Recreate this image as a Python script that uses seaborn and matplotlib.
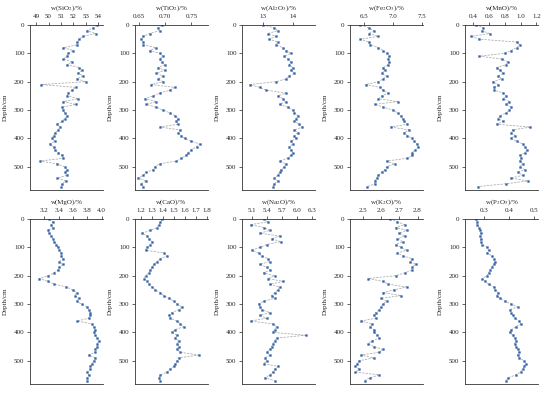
import matplotlib
matplotlib.use("Agg")
import matplotlib.pyplot as plt
import pandas as pd
import seaborn as sns

# =====================
# 1. data (depth every 10 cm)
# =====================
depth = list(range(0, 580, 10))

sio2 = [53.9, 53.6, 53.1, 53.8, 52.8, 52.5, 52.3, 52.3, 51.2, 52.0,
        51.6, 51.5, 51.2, 51.9, 51.5, 52.5, 52.7, 52.4, 52.8, 52.3,
        53.0, 49.4, 52.2, 51.9, 51.6, 51.5, 52.4, 51.2, 52.2, 51.1,
        51.2, 51.3, 51.5, 51.3, 51.1, 50.7, 50.9, 50.8, 50.5, 50.4,
        50.3, 50.5, 50.1, 50.4, 50.5, 50.8, 51.1, 51.2, 49.3, 50.7,
        51.3, 51.5, 51.3, 51.5, 50.7, 51.4, 51.1, 51.0]
tio2 = [0.693, 0.686, 0.689, 0.670, 0.658, 0.654, 0.658, 0.658, 0.683, 0.670,
        0.689, 0.696, 0.689, 0.693, 0.699, 0.686, 0.699, 0.683, 0.696, 0.686,
        0.696, 0.673, 0.718, 0.709, 0.689, 0.677, 0.661, 0.683, 0.664, 0.683,
        0.696, 0.709, 0.718, 0.725, 0.721, 0.725, 0.690, 0.728, 0.725, 0.731,
        0.737, 0.750, 0.766, 0.760, 0.750, 0.744, 0.740, 0.731, 0.721, 0.689,
        0.680, 0.677, 0.664, 0.658, 0.648, 0.664, 0.654, 0.658]
al2o3 = [13.0, 13.39, 13.5, 13.17, 13.44, 13.22, 13.5, 13.44, 13.67, 13.78,
         13.94, 13.72, 13.83, 13.94, 13.89, 14.0, 13.94, 14.06, 13.89, 13.78,
         13.44, 12.56, 12.89, 13.11, 13.78, 13.5, 13.67, 13.78, 13.56, 13.83,
         14.0, 14.06, 14.17, 14.11, 14.06, 14.22, 14.33, 14.06, 14.17, 14.06,
         14.11, 13.94, 14.0, 13.89, 13.94, 14.0, 13.94, 13.83, 13.56, 13.78,
         13.72, 13.61, 13.56, 13.5, 13.39, 13.5, 13.39, 13.33]
fe2o3 = [6.44, 6.58, 6.67, 6.58, 6.75, 6.44, 6.58, 6.61, 6.75, 6.83,
         6.89, 6.94, 6.92, 6.94, 6.92, 6.83, 6.86, 6.81, 6.89, 6.83,
         6.75, 6.53, 6.78, 6.83, 6.92, 6.81, 6.75, 7.08, 6.69, 6.83,
         7.0, 7.08, 7.14, 7.17, 7.19, 7.25, 6.97, 7.28, 7.19, 7.25,
         7.33, 7.36, 7.42, 7.44, 7.39, 7.33, 7.33, 7.25, 6.89, 7.03,
         6.89, 6.86, 6.81, 6.75, 6.72, 6.69, 6.69, 6.56]
mno = [0.44, 0.53, 0.51, 0.61, 0.38, 0.48, 0.95, 0.99, 0.95, 0.88,
       0.80, 0.48, 0.76, 0.84, 0.82, 0.70, 0.74, 0.78, 0.72, 0.76,
       0.65, 0.72, 0.67, 0.67, 0.78, 0.82, 0.78, 0.86, 0.82, 0.88,
       0.86, 0.82, 0.74, 0.72, 0.78, 0.70, 1.12, 0.90, 0.88, 0.93,
       0.88, 0.95, 1.03, 1.05, 1.08, 1.06, 0.99, 1.01, 0.99, 1.03,
       0.99, 1.05, 0.97, 1.03, 0.88, 1.09, 0.82, 0.46]
mgo = [3.27, 3.32, 3.30, 3.32, 3.25, 3.27, 3.30, 3.32, 3.34, 3.37,
       3.39, 3.41, 3.44, 3.44, 3.46, 3.41, 3.46, 3.41, 3.39, 3.34,
       3.25, 3.13, 3.25, 3.34, 3.51, 3.60, 3.65, 3.63, 3.68, 3.65,
       3.72, 3.80, 3.82, 3.84, 3.84, 3.82, 3.66, 3.87, 3.89, 3.91,
       3.89, 3.91, 3.94, 3.96, 3.94, 3.94, 3.91, 3.91, 3.82, 3.91,
       3.89, 3.87, 3.84, 3.84, 3.80, 3.82, 3.80, 3.80]
cao = [1.395, 1.38, 1.365, 1.35, 1.29, 1.215, 1.26, 1.275, 1.305, 1.29,
       1.26, 1.245, 1.41, 1.44, 1.38, 1.35, 1.32, 1.305, 1.29, 1.275,
       1.245, 1.23, 1.26, 1.275, 1.305, 1.335, 1.38, 1.41, 1.455, 1.50,
       1.53, 1.575, 1.545, 1.485, 1.455, 1.47, 1.53, 1.56, 1.59, 1.515,
       1.485, 1.53, 1.515, 1.545, 1.53, 1.545, 1.53, 1.56, 1.725, 1.545,
       1.53, 1.515, 1.50, 1.47, 1.44, 1.38, 1.365, 1.38]
na2o = [5.33, 5.42, 5.07, 5.33, 5.46, 5.26, 5.65, 5.49, 5.68, 5.39,
        5.26, 5.10, 5.23, 5.29, 5.42, 5.46, 5.26, 5.39, 5.46, 5.33,
        5.55, 5.42, 5.72, 5.46, 5.65, 5.62, 5.55, 5.49, 5.55, 5.33,
        5.23, 5.26, 5.29, 5.46, 5.26, 5.39, 5.07, 5.52, 5.59, 5.55,
        5.52, 6.17, 5.59, 5.55, 5.52, 5.49, 5.46, 5.39, 5.46, 5.36,
        5.39, 5.33, 5.62, 5.55, 5.52, 5.46, 5.36, 5.55]
k2o = [2.65, 2.69, 2.73, 2.68, 2.74, 2.70, 2.73, 2.69, 2.72, 2.68,
       2.71, 2.74, 2.69, 2.72, 2.77, 2.76, 2.79, 2.77, 2.77, 2.73,
       2.68, 2.53, 2.61, 2.64, 2.74, 2.67, 2.61, 2.71, 2.60, 2.63,
       2.61, 2.60, 2.59, 2.57, 2.56, 2.57, 2.49, 2.55, 2.54, 2.56,
       2.56, 2.58, 2.59, 2.55, 2.53, 2.56, 2.61, 2.59, 2.49, 2.56,
       2.48, 2.47, 2.46, 2.48, 2.46, 2.59, 2.54, 2.51]
p2o5 = [0.268, 0.272, 0.274, 0.281, 0.285, 0.287, 0.285, 0.287, 0.287, 0.294,
        0.313, 0.319, 0.313, 0.332, 0.339, 0.345, 0.339, 0.332, 0.326, 0.319,
        0.313, 0.294, 0.306, 0.319, 0.339, 0.345, 0.358, 0.352, 0.365, 0.384,
        0.410, 0.435, 0.403, 0.410, 0.416, 0.423, 0.442, 0.448, 0.429, 0.410,
        0.403, 0.416, 0.423, 0.429, 0.423, 0.429, 0.435, 0.442, 0.435, 0.442,
        0.461, 0.468, 0.461, 0.455, 0.448, 0.429, 0.397, 0.390]

labels = [r"w(SiO$_2$)/%", r"w(TiO$_2$)/%", r"w(Al$_2$O$_3$)/%",
          r"w(Fe$_2$O$_3$)/%", r"w(MnO)/%",
          r"w(MgO)/%", r"w(CaO)/%", r"w(Na$_2$O)/%",
          r"w(K$_2$O)/%", r"w(P$_2$O$_5$)/%"]
series = [sio2, tio2, al2o3, fe2o3, mno, mgo, cao, na2o, k2o, p2o5]
xticks = [[49, 50, 51, 52, 53, 54], [0.65, 0.70, 0.75], [13, 14],
          [6.5, 7.0, 7.5], [0.4, 0.6, 0.8, 1.0, 1.2],
          [3.2, 3.4, 3.6, 3.8, 4.0], [1.2, 1.3, 1.4, 1.5, 1.6, 1.7, 1.8],
          [5.1, 5.4, 5.7, 6.0, 6.3], [2.5, 2.6, 2.7, 2.8], [0.3, 0.4, 0.5]]
xticklabels = [["49", "50", "51", "52", "53", "54"], ["0.65", "0.70", "0.75"],
               ["13", "14"], ["6.5", "7.0", "7.5"],
               ["0.4", "0.6", "0.8", "1.0", "1.2"],
               ["3.2", "3.4", "3.6", "3.8", "4.0"],
               ["1.2", "1.3", "1.4", "1.5", "1.6", "1.7", "1.8"],
               ["5.1", "5.4", "5.7", "6.0", "6.3"],
               ["2.5", "2.6", "2.7", "2.8"], ["0.3", "0.4", "0.5"]]
xlims = [(48.5, 54.4), (0.642, 0.782), (12.3, 14.75), (6.26, 7.52), (0.3, 1.22),
         (3.0, 4.02), (1.15, 1.81), (4.9, 6.36), (2.43, 2.83), (0.225, 0.517)]

# =====================
# 2. style
# =====================
sns.set_theme(style="ticks")
plt.rcParams["font.family"] = ["Liberation Serif", "DejaVu Serif"]
plt.rcParams["mathtext.fontset"] = "stix"

W, H = 550, 393
fig = plt.figure(figsize=(W / 100, H / 100), dpi=100)

lefts = [30, 135, 242, 350, 465]
tops = [25, 219]
ax_w, ax_h = 73, 165

# =====================
# 3. panels
# =====================
for i, vals in enumerate(series):
    row, col = divmod(i, 5)
    ax = fig.add_axes([lefts[col] / W, 1 - (tops[row] + ax_h) / H,
                       ax_w / W, ax_h / H])
    df = pd.DataFrame({"depth": depth, "value": vals})
    sns.lineplot(data=df, x="value", y="depth", sort=False, estimator=None,
                 ax=ax, color="#ababab", lw=0.55, ls=(0, (3, 1.5)),
                 marker="s", ms=1.3, mfc="#3262a8", mec="#3262a8", mew=0.3)

    ax.set_ylim(582, 0)
    ax.set_yticks([0, 100, 200, 300, 400, 500])
    ax.set_xlim(*xlims[i])
    ax.set_xticks(xticks[i])
    ax.set_xticklabels(xticklabels[i])
    ax.xaxis.tick_top()
    ax.xaxis.set_label_position("top")
    ax.set_xlabel(labels[i], fontsize=5, labelpad=3.5)
    ax.set_ylabel("Depth/cm", fontsize=5, labelpad=4)
    ax.tick_params(labelsize=5, length=2, width=0.5, pad=2)
    for side in ["left", "top", "bottom"]:
        ax.spines[side].set_linewidth(0.6)
        ax.spines[side].set_color("#333333")
    ax.spines["right"].set_visible(False)

fig.savefig("out.png", dpi=100)
